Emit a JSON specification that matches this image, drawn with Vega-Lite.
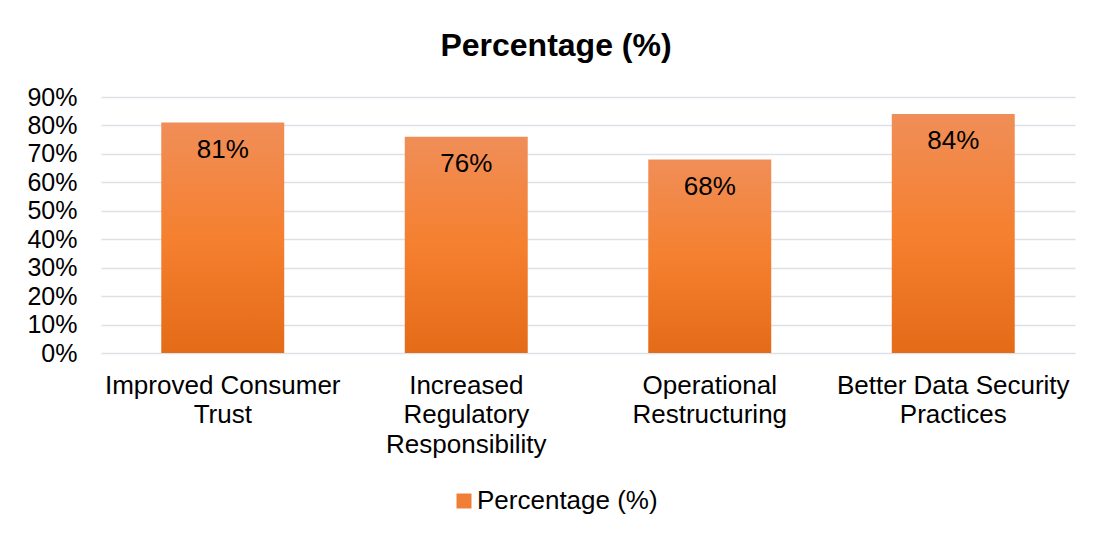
{
  "$schema": "https://vega.github.io/schema/vega-lite/v6.json",
  "autosize": {"type": "none"},
  "width": 974,
  "height": 256,
  "padding": {"left": 101, "top": 97, "right": 21, "bottom": 184},
  "background": "white",
  "config": {
    "font": "Liberation Sans",
    "view": {"stroke": null}
  },
  "title": {
    "text": "Percentage (%)",
    "fontSize": 32,
    "fontWeight": "bold",
    "color": "#000000",
    "anchor": "middle",
    "dx": -32,
    "offset": 22
  },
  "data": {
    "values": [
      {"category": "Improved Consumer|Trust", "value": 0.81, "series": "Percentage (%)"},
      {"category": "Increased|Regulatory|Responsibility", "value": 0.76, "series": "Percentage (%)"},
      {"category": "Operational|Restructuring", "value": 0.68, "series": "Percentage (%)"},
      {"category": "Better Data Security|Practices", "value": 0.84, "series": "Percentage (%)"}
    ]
  },
  "encoding": {
    "x": {
      "field": "category",
      "type": "nominal",
      "sort": null,
      "scale": {"paddingInner": 0.495, "paddingOuter": 0.2475},
      "axis": {
        "title": null,
        "labelAngle": 0,
        "labelExpr": "split(datum.label, '|')",
        "labelFontSize": 26,
        "labelColor": "#000000",
        "labelLineHeight": 29.5,
        "labelPadding": 19,
        "ticks": false,
        "domain": false,
        "labelLimit": 400
      }
    },
    "y": {
      "field": "value",
      "type": "quantitative",
      "scale": {"domain": [0, 0.9], "nice": false},
      "axis": {
        "title": null,
        "values": [0, 0.1, 0.2, 0.3, 0.4, 0.5, 0.6, 0.7, 0.8, 0.9],
        "format": ".0%",
        "labelFontSize": 25,
        "labelColor": "#000000",
        "labelPadding": 24,
        "ticks": false,
        "domain": false,
        "gridColor": "#DDE1E6",
        "gridWidth": 1.5
      }
    }
  },
  "layer": [
    {
      "mark": {
        "type": "bar",
        "color": {
          "gradient": "linear",
          "x1": 0, "y1": 0, "x2": 0, "y2": 1,
          "stops": [
            {"offset": 0, "color": "#F08E58"},
            {"offset": 0.5, "color": "#F5802F"},
            {"offset": 1, "color": "#E46B18"}
          ]
        }
      }
    },
    {
      "mark": {"type": "bar", "opacity": 0},
      "encoding": {
        "color": {
          "field": "series",
          "type": "nominal",
          "scale": {"range": ["#F07E36"]},
          "legend": {
            "title": null,
            "orient": "none",
            "legendX": 350,
            "legendY": 391,
            "symbolType": "square",
            "symbolSize": 225,
            "symbolOpacity": 1,
            "symbolStrokeWidth": 0,
            "labelFontSize": 26,
            "labelColor": "#000000",
            "labelOffset": 0,
            "labelLimit": 400
          }
        }
      }
    },
    {
      "mark": {"type": "text", "baseline": "top", "dy": 14, "fontSize": 26, "color": "#000000"},
      "encoding": {
        "text": {"field": "value", "type": "quantitative", "format": ".0%"}
      }
    }
  ]
}
